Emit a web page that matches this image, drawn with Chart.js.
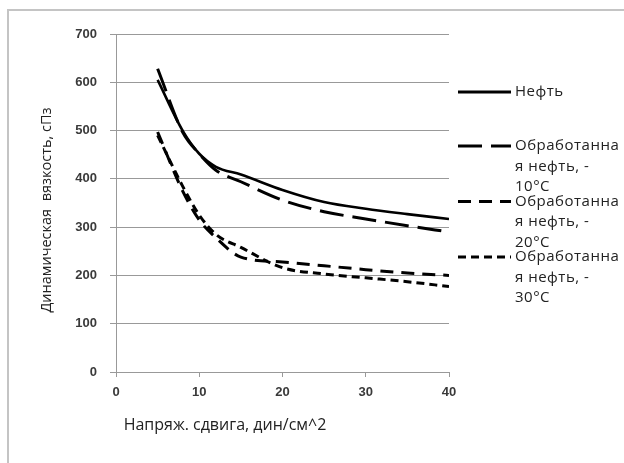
<!DOCTYPE html>
<html>
<head>
<meta charset="utf-8">
<script src="https://cdn.jsdelivr.net/npm/chart.js@4"></script>
<style>
  html, body { margin: 0; padding: 0; background: #fff; }
  #wrap { position: relative; width: 624px; height: 463px; overflow: hidden; }
  #frame { position: absolute; left: 7px; top: 9px; width: 700px; height: 600px; border: 2px solid #c4c4c4; box-sizing: border-box; }
  canvas { position: absolute; left: 0; top: 0; }
</style>
</head>
<body>
<div id="wrap">
  <div id="frame"></div>
  <canvas id="chart" width="624" height="463"></canvas>
</div>
<script>
// Shear stress points (dyn/cm^2) and viscosity (cP)
const shear = [5, 8, 10, 12, 15, 20, 25, 30, 35, 40];
const oil = [605, 500, 452, 425, 409, 377, 352, 338, 327, 317];
const treated10 = [628, 497, 452, 418, 394, 356, 332, 317, 303, 290];
const treated20 = [497, 375, 315, 278, 238, 228, 220, 212, 205, 200];
const treated30 = [490, 385, 325, 285, 258, 216, 203, 195, 187, 177];

const seriesLabels = [
  ['Нефть'],
  ['Обработанна', 'я нефть, -', '10°C'],
  ['Обработанна', 'я нефть, -', '20°C'],
  ['Обработанна', 'я нефть, -', '30°C'],
];
const xTicks = [0, 10, 20, 30, 40];
const yTicks = [0, 100, 200, 300, 400, 500, 600, 700];
const xTitle = 'Напряж. сдвига, дин/см^2';
const yTitle = 'Динамическая  вязкость, сПз';

const dashes = [[], [24, 9], [13, 8], [8, 5]];
const toPoints = vals => shear.map((x, i) => ({ x, y: vals[i] }));

const tickFont = { family: '"Liberation Sans", Arial, sans-serif', size: 13, weight: 'bold' };

// Titles and multi-line legend drawn in canvas
const extras = {
  id: 'extras',
  afterDraw(chart) {
    const ctx = chart.ctx;
    ctx.save();
    ctx.fillStyle = '#222';
    ctx.textBaseline = 'middle';
    // x title
    ctx.font = '16px "Open Sans", sans-serif';
    ctx.textAlign = 'center';
    ctx.fillText(xTitle, 225, 425);
    // y title
    ctx.save();
    ctx.font = '14.5px "Open Sans", sans-serif';
    ctx.translate(47, 210);
    ctx.rotate(-Math.PI / 2);
    ctx.fillText(yTitle, 0, 0);
    ctx.restore();
    // legend
    const rows = [92, 146, 201.5, 257];
    ctx.font = '15px "Open Sans", sans-serif';
    ctx.letterSpacing = '0.5px';
    ctx.textAlign = 'left';
    chart.data.datasets.forEach((ds, i) => {
      const y = rows[i];
      ctx.beginPath();
      ctx.strokeStyle = '#000';
      ctx.lineWidth = 3;
      ctx.setLineDash(ds.borderDash || []);
      ctx.moveTo(458, y);
      ctx.lineTo(511, y);
      ctx.stroke();
      ctx.setLineDash([]);
      seriesLabels[i].forEach((line, j) => ctx.fillText(line, 515, y + j * 20.5));
    });
    ctx.restore();
  }
};

new Chart(document.getElementById('chart'), {
  type: 'line',
  data: {
    datasets: seriesLabels.map((lab, i) => ({
      label: lab.join(' '),
      data: toPoints([oil, treated10, treated20, treated30][i]),
      borderColor: '#000',
      borderWidth: i === 0 ? 2.6 : 3,
      borderDash: dashes[i],
      pointRadius: 0,
      cubicInterpolationMode: 'monotone',
      fill: false,
    })),
  },
  options: {
    responsive: false,
    animation: false,
    layout: { padding: { left: 0, top: 34, right: 175, bottom: 0 } },
    plugins: { legend: { display: false }, tooltip: { enabled: false } },
    scales: {
      x: {
        type: 'linear', min: 0, max: 40,
        afterBuildTicks: s => { s.ticks = xTicks.map(v => ({ value: v })); },
        afterFit: s => { s.height = 91; },
        grid: { drawOnChartArea: false, drawTicks: true, tickLength: 5, color: '#999' },
        border: { color: '#999', width: 1 },
        ticks: { color: '#3a3a3a', padding: 8, font: tickFont },
      },
      y: {
        min: 0, max: 700,
        afterBuildTicks: s => { s.ticks = yTicks.map(v => ({ value: v })); },
        afterFit: s => { s.width = 116; },
        grid: { color: '#999', drawTicks: true, tickLength: 6 },
        border: { color: '#999', width: 1 },
        ticks: { color: '#3a3a3a', padding: 13, font: tickFont },
      },
    },
  },
  plugins: [extras],
});
</script>
</body>
</html>
